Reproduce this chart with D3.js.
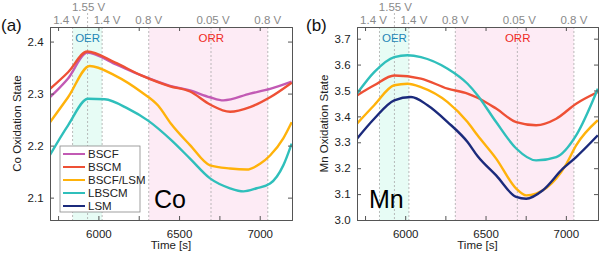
<!DOCTYPE html>
<html>
<head>
<meta charset="utf-8">
<script src="https://cdn.jsdelivr.net/npm/d3@7"></script>
<style>
  body { margin: 0; background: #fff; }
  text { font-family: "Liberation Sans", Arial, sans-serif; }
</style>
</head>
<body>
<div id="chart"></div>
<script>
// series names and colours
const seriesNames = ["BSCF", "BSCM", "BSCF/LSM", "LBSCM", "LSM"];
const seriesColors = ["#c25ab4", "#ee5035", "#ffb20a", "#2fbfbb", "#1b2a7c"];

// panel (a) Co, time [s] and oxidation state
const coTimeBSCF = [5700, 5812, 5931, 6101, 6266, 6444, 6568, 6692, 6775, 6940, 7064, 7198];
const coBSCF = [2.293, 2.329, 2.379, 2.357, 2.335, 2.315, 2.306, 2.293, 2.287, 2.300, 2.309, 2.323];
const coTimeBSCM = [5700, 5812, 5931, 6101, 6266, 6444, 6568, 6692, 6816, 6940, 7064, 7198];
const coBSCM = [2.309, 2.341, 2.381, 2.360, 2.335, 2.314, 2.304, 2.279, 2.265, 2.274, 2.293, 2.321];
const coTimeBSCFLSM = [5700, 5812, 5946, 6101, 6266, 6370, 6450, 6568, 6692, 6816, 6919, 7002, 7064, 7146, 7198];
const coBSCFLSM = [2.245, 2.293, 2.353, 2.335, 2.303, 2.277, 2.242, 2.201, 2.162, 2.156, 2.154, 2.165, 2.181, 2.214, 2.245];
const coTimeLBSCM = [5700, 5812, 5936, 6039, 6183, 6308, 6450, 6568, 6692, 6816, 6899, 6981, 7064, 7146, 7198];
const coLBSCM = [2.182, 2.239, 2.290, 2.289, 2.271, 2.248, 2.211, 2.175, 2.137, 2.118, 2.112, 2.118, 2.127, 2.162, 2.204];

// panel (b) Mn
const mnTimeBSCM = [5700, 5807, 5932, 6098, 6264, 6388, 6450, 6566, 6691, 6815, 6940, 7064, 7199];
const mnBSCM = [3.481, 3.520, 3.558, 3.546, 3.507, 3.488, 3.472, 3.430, 3.378, 3.366, 3.391, 3.449, 3.494];
const mnTimeBSCFLSM = [5700, 5807, 5932, 6015, 6098, 6264, 6388, 6450, 6566, 6691, 6753, 6815, 6940, 7002, 7064, 7199];
const mnBSCFLSM = [3.372, 3.443, 3.520, 3.526, 3.513, 3.455, 3.378, 3.327, 3.237, 3.121, 3.095, 3.102, 3.160, 3.215, 3.288, 3.385];
const mnTimeLBSCM = [5700, 5807, 5932, 6015, 6098, 6264, 6388, 6450, 6566, 6691, 6815, 6940, 7064, 7199];
const mnLBSCM = [3.488, 3.571, 3.629, 3.636, 3.629, 3.584, 3.526, 3.482, 3.378, 3.276, 3.230, 3.243, 3.327, 3.507];
const mnTimeLSM = [5700, 5807, 5932, 6036, 6139, 6264, 6388, 6450, 6566, 6691, 6753, 6857, 6981, 7064, 7199];
const mnLSM = [3.314, 3.391, 3.462, 3.475, 3.443, 3.378, 3.301, 3.247, 3.172, 3.089, 3.082, 3.115, 3.198, 3.243, 3.327];

// potential markers
const markerTimes = [5840, 5933, 6023, 6312, 6698, 7050];
const markerLabels = ["1.4 V", "1.55 V", "1.4 V", "0.8 V", "0.05 V", "0.8 V"];
const oerRange = [5840, 6023];
const orrRange = [6312, 7050];

const xTicks = [6000, 6500, 7000];

const width = 600, height = 256;

const svg = d3.select("#chart").append("svg")
  .attr("width", width)
  .attr("height", height);

function zip(ts, vs) { return ts.map((t, i) => [t, vs[i]]); }

// nudge of the potential labels so the two 1.4 V do not collide
const labelNudge = [-6, 1, 5, 0, 2, 0];

function drawPanel(p) {
  const x = d3.scaleLinear().domain([5700, 7200]).range([p.left, p.right]);
  const y = d3.scaleLinear().domain(p.yDomain).range([p.bottom, p.top]);
  const g = svg.append("g");

  // shaded regions
  g.append("rect")
    .attr("x", x(oerRange[0])).attr("y", p.top)
    .attr("width", x(oerRange[1]) - x(oerRange[0])).attr("height", p.bottom - p.top)
    .attr("fill", "#e7fcf5");
  g.append("rect")
    .attr("x", x(orrRange[0])).attr("y", p.top)
    .attr("width", x(orrRange[1]) - x(orrRange[0])).attr("height", p.bottom - p.top)
    .attr("fill", "#fdebf5");

  // dashed potential lines and labels
  markerTimes.forEach((t, i) => {
    const hi = i === 1;
    g.append("line")
      .attr("x1", x(t)).attr("x2", x(t))
      .attr("y1", hi ? 13 : p.top).attr("y2", p.bottom)
      .attr("stroke", "#aaa").attr("stroke-width", 0.8)
      .attr("stroke-dasharray", "2,2");
    g.append("text")
      .attr("x", x(t) + labelNudge[i]).attr("y", hi ? 11 : 24)
      .attr("text-anchor", "middle")
      .attr("font-size", 11.5)
      .attr("fill", "#8a8a8a")
      .text(markerLabels[i]);
  });

  g.append("text").attr("x", x(5933)).attr("y", 42)
    .attr("text-anchor", "middle").attr("font-size", 11.5)
    .attr("fill", "#1f86b5").text("OER");
  g.append("text").attr("x", x(6700)).attr("y", 42)
    .attr("text-anchor", "middle").attr("font-size", 11.5)
    .attr("fill", "#ee2a24").text("ORR");

  // clip
  const clipId = "clip" + p.id;
  svg.append("clipPath").attr("id", clipId).append("rect")
    .attr("x", p.left).attr("y", p.top)
    .attr("width", p.right - p.left).attr("height", p.bottom - p.top);

  const line = d3.line()
    .x(d => x(d[0])).y(d => y(d[1]))
    .curve(d3.curveMonotoneX);

  p.series.forEach(s => {
    g.append("path")
      .attr("clip-path", `url(#${clipId})`)
      .attr("d", line(zip(s.t, s.v)))
      .attr("fill", "none")
      .attr("stroke", seriesColors[seriesNames.indexOf(s.name)])
      .attr("stroke-width", 2.4);
  });

  // axes with inward ticks
  const tickLen = 4;
  const xMinor = d3.range(5750, 7201, 250);
  const xb = g.append("g").attr("transform", `translate(0,${p.bottom})`)
    .call(d3.axisBottom(x).tickValues(xMinor).tickSize(-tickLen)
      .tickFormat(d => xTicks.includes(d) ? d : ""));
  g.append("g").attr("transform", `translate(0,${p.top})`)
    .call(d3.axisTop(x).tickValues(xMinor).tickSize(-tickLen).tickFormat(""));
  const yl = g.append("g").attr("transform", `translate(${p.left},0)`)
    .call(d3.axisLeft(y).tickValues(p.yTicks).tickSize(-tickLen).tickFormat(d3.format(".1f")));
  g.append("g").attr("transform", `translate(${p.right},0)`)
    .call(d3.axisRight(y).tickValues(p.yTicks).tickSize(-tickLen).tickFormat(""));

  g.selectAll(".domain").attr("stroke", "#555");
  g.selectAll(".tick line").attr("stroke", "#555");
  g.selectAll(".tick text").attr("font-size", 11.5).attr("fill", "#222")
    .attr("font-family", "Liberation Sans, Arial, sans-serif");
  xb.selectAll(".tick text").attr("dy", "1.3em");
  yl.selectAll(".tick text").attr("dx", "-0.3em");

  // titles
  g.append("text")
    .attr("x", (p.left + p.right) / 2).attr("y", 249)
    .attr("text-anchor", "middle").attr("font-size", 11.5).attr("fill", "#222")
    .text("Time [s]");
  g.append("text")
    .attr("transform", `translate(${p.left - 29},${(p.top + p.bottom) / 2}) rotate(-90)`)
    .attr("text-anchor", "middle").attr("font-size", 11.5).attr("fill", "#222")
    .text(p.yTitle);
  g.append("text")
    .attr("x", p.tagX).attr("y", 31)
    .attr("font-size", 17).attr("fill", "#111")
    .text(p.tag);
  g.append("text")
    .attr("x", p.elemX).attr("y", 208)
    .attr("font-size", 25).attr("fill", "#000")
    .text(p.elem);
}

drawPanel({
  id: "a", left: 50, right: 292, top: 27, bottom: 220,
  yDomain: [2.057, 2.428], yTicks: [2.1, 2.2, 2.3, 2.4],
  yTitle: "Co Oxidation State", tag: "(a)", tagX: 1, elem: "Co", elemX: 154,
  series: [
    { name: "BSCF", t: coTimeBSCF, v: coBSCF },
    { name: "BSCM", t: coTimeBSCM, v: coBSCM },
    { name: "BSCF/LSM", t: coTimeBSCFLSM, v: coBSCFLSM },
    { name: "LBSCM", t: coTimeLBSCM, v: coLBSCM }
  ]
});

drawPanel({
  id: "b", left: 357, right: 598, top: 27, bottom: 220,
  yDomain: [3.0, 3.745], yTicks: [3.0, 3.1, 3.2, 3.3, 3.4, 3.5, 3.6, 3.7],
  yTitle: "Mn Oxidation State", tag: "(b)", tagX: 306, elem: "Mn", elemX: 369,
  series: [
    { name: "BSCM", t: mnTimeBSCM, v: mnBSCM },
    { name: "LBSCM", t: mnTimeLBSCM, v: mnLBSCM },
    { name: "BSCF/LSM", t: mnTimeBSCFLSM, v: mnBSCFLSM },
    { name: "LSM", t: mnTimeLSM, v: mnLSM }
  ]
});

// legend in panel (a)
const legend = svg.append("g");
legend.append("rect")
  .attr("x", 60).attr("y", 146).attr("width", 80).attr("height", 66)
  .attr("fill", "#fff").attr("stroke", "#888").attr("stroke-width", 0.8);
seriesNames.forEach((name, i) => {
  const yy = 154 + i * 13;
  legend.append("line")
    .attr("x1", 63).attr("x2", 85).attr("y1", yy).attr("y2", yy)
    .attr("stroke", seriesColors[i]).attr("stroke-width", 2);
  legend.append("text")
    .attr("x", 88).attr("y", yy + 4)
    .attr("font-size", 11.5).attr("fill", "#222")
    .text(name);
});
</script>
</body>
</html>
